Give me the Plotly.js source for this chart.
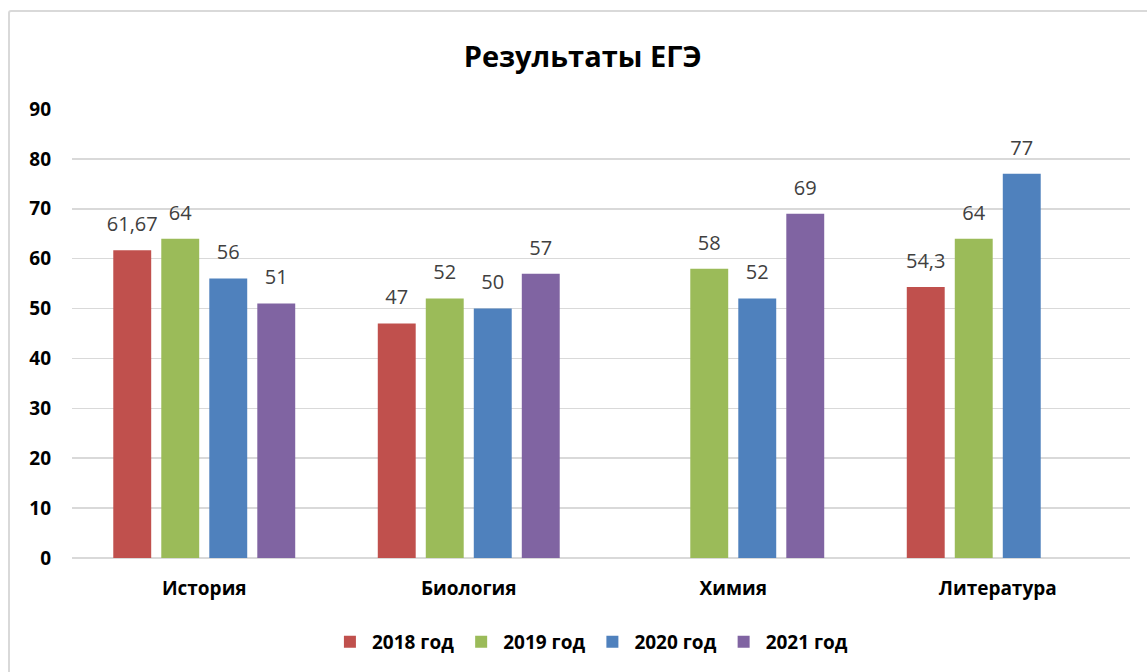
<!DOCTYPE html>
<html>
<head>
<meta charset="utf-8">
<script src="https://cdn.plot.ly/plotly-3.0.1.min.js"></script>
<style>
html,body{margin:0;padding:0;background:#fff;overflow:hidden;}
#chart{position:absolute;left:0;top:0;width:1147px;height:672px;}
#frame{position:absolute;left:8px;top:10px;width:1200px;height:700px;border:2px solid #d9d9d9;border-radius:3px;pointer-events:none;}
</style>
</head>
<body>
<div id="chart"></div>
<div id="frame"></div>
<script>
const categories = ["История", "Биология", "Химия", "Литература"];
const seriesNames = ["2018 год", "2019 год", "2020 год", "2021 год"];
const values2018 = [61.67, 47, null, 54.3];
const values2019 = [64, 52, 58, 64];
const values2020 = [56, 50, 52, 77];
const values2021 = [51, 57, 69, null];
const colors = ["#C0504D", "#9BBB59", "#4F81BD", "#8064A2"];
const yTicks = [0, 10, 20, 30, 40, 50, 60, 70, 80, 90];

const FONT = "'Open Sans', 'DejaVu Sans', sans-serif";
const allValues = [values2018, values2019, values2020, values2021];
const GAP = 0.274;

const bars = allValues.map((vals, i) => ({
  type: "bar",
  name: seriesNames[i],
  x: categories,
  y: vals,
  marker: {color: colors[i]},
  hoverinfo: "x+y+name"
}));

const labels = allValues.map((vals, i) => ({
  type: "scatter",
  mode: "markers+text",
  name: seriesNames[i],
  showlegend: false,
  x: categories,
  y: vals,
  text: vals.map(v => v === null ? "" : String(v).replace(".", ",")),
  textposition: "top center",
  cliponaxis: false,
  textfont: {family: FONT, size: 20, color: "#404040"},
  marker: {size: 21, opacity: 0, color: colors[i]},
  hoverinfo: "skip"
}));

const layout = {
  width: 1147,
  height: 672,
  margin: {l: 72, r: 17, t: 109, b: 113},
  paper_bgcolor: "#ffffff",
  plot_bgcolor: "#ffffff",
  font: {family: FONT, color: "#000000"},
  title: {text: "<b>Результаты ЕГЭ</b>", font: {family: FONT, size: 29, color: "#000000"}, x: 0.508, xanchor: "center", y: 0.915, yanchor: "middle"},
  barmode: "group",
  bargap: GAP,
  bargroupgap: 0.21,
  scattermode: "group",
  scattergap: GAP,
  xaxis: {
    type: "category",
    tickfont: {family: FONT, size: 19, color: "#000000", weight: "bold"},
    showgrid: false,
    showline: false,
    ticks: "",
    ticklabelstandoff: 17
  },
  yaxis: {
    range: [0, 90],
    tickvals: yTicks,
    ticktext: yTicks.map(String),
    tickfont: {family: FONT, size: 19, color: "#000000", weight: "bold"},
    showgrid: true,
    gridcolor: "#d9d9d9",
    gridwidth: 1.5,
    zeroline: true,
    zerolinecolor: "#d9d9d9",
    zerolinewidth: 1.5,
    showline: false,
    ticks: "",
    ticklabelstandoff: 20
  },
  legend: {
    orientation: "h",
    x: 0.49,
    xanchor: "center",
    y: -0.184,
    yanchor: "middle",
    font: {family: FONT, size: 19, color: "#000000", weight: "bold"},
    itemwidth: 34,
    traceorder: "normal"
  },
  showlegend: true
};

Plotly.newPlot("chart", bars.concat(labels), layout, {displayModeBar: false, staticPlot: true});
</script>
</body>
</html>
